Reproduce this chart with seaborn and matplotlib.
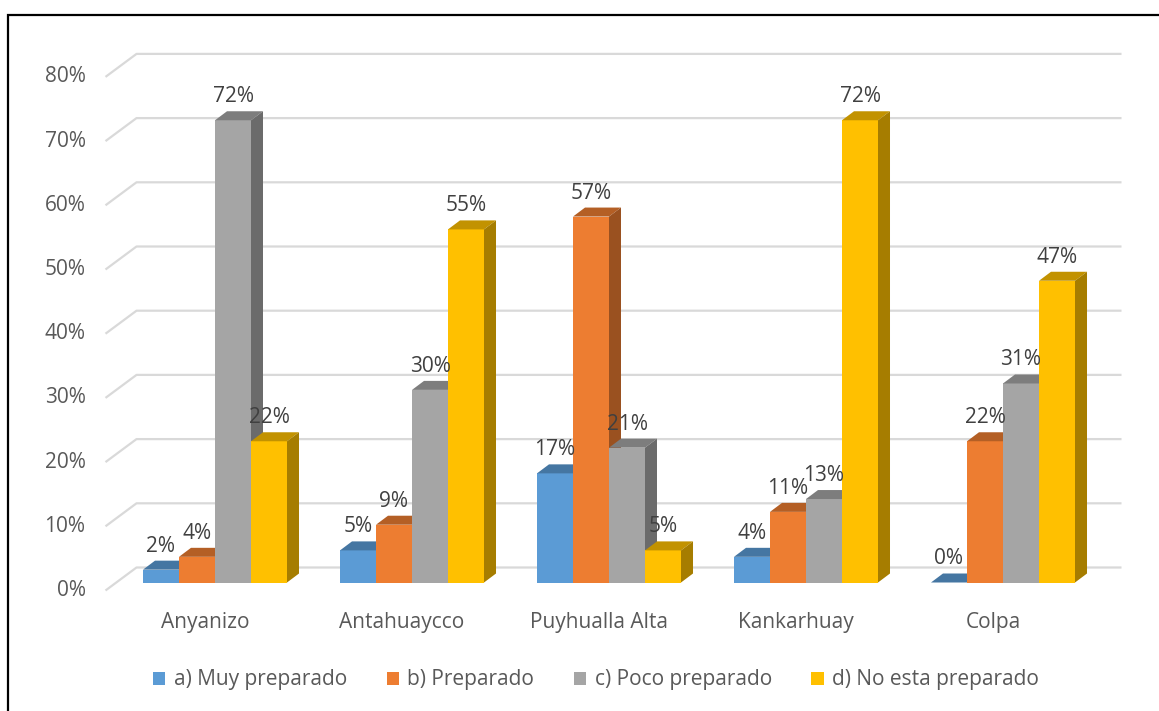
import matplotlib
matplotlib.use("Agg")
import matplotlib.pyplot as plt
from matplotlib.patches import Polygon, Rectangle, Patch
import seaborn as sns
import pandas as pd
import numpy as np

# ---- data -------------------------------------------------------------
comunidades = ["Anyanizo", "Antahuaycco", "Puyhualla Alta", "Kankarhuay", "Colpa"]
niveles = ["a) Muy preparado", "b) Preparado", "c) Poco preparado", "d) No esta preparado"]
muy_preparado = [2, 5, 17, 4, 0]
preparado = [4, 9, 57, 11, 22]
poco_preparado = [72, 30, 21, 13, 31]
no_preparado = [22, 55, 5, 72, 47]
y_ticks = [0, 10, 20, 30, 40, 50, 60, 70, 80]

colores = ["#5B9BD5", "#ED7D31", "#A5A5A5", "#FFC000"]

series = [muy_preparado, preparado, poco_preparado, no_preparado]
df = pd.DataFrame(
    [(c, n, v) for n, vals in zip(niveles, series) for c, v in zip(comunidades, vals)],
    columns=["comunidad", "nivel", "valor"],
)

# ---- figure / axes layout (pixel based) --------------------------------
W, H = 1159, 711
DPI = 100
FS = 15
sns.set_theme(style="white")
plt.rcParams["font.family"] = ["Open Sans", "DejaVu Sans"]

fig = plt.figure(figsize=(W / DPI, H / DPI), dpi=DPI)
fig.patch.set_facecolor("white")

px_unit_x = 197.0          # pixels per category
px_unit_y = 6.42           # pixels per percentage point
x_left_px = 215 - 0.5 * px_unit_x
y_zero_px = 582.5          # from top
y_top_px = y_zero_px - 80 * px_unit_y
ax = fig.add_axes([x_left_px / W, (H - y_zero_px) / H,
                   5 * px_unit_x / W, (y_zero_px - y_top_px) / H])

sns.barplot(data=df, x="comunidad", y="valor", hue="nivel", hue_order=niveles,
            palette=colores, width=0.731, saturation=1, linewidth=0,
            legend=False, ax=ax)
ax.set_xlim(-0.5, 4.5)
ax.set_ylim(0, 80)
ax.axis("off")

def px2x(p):
    return p / px_unit_x

def px2y(p):
    return p / px_unit_y

# back-wall gridlines and their floor/side projection
grid_col = "#D9D9D9"
back_dx, back_dy = px2x(20), px2y(15)
front_dx, front_dy = px2x(-11), px2y(-8)
for v in y_ticks:
    ax.plot([-0.5 + front_dx, -0.5 + back_dx, 4.5 + back_dx],
            [v + front_dy, v + back_dy, v + back_dy],
            color=grid_col, lw=1.6, clip_on=False, zorder=1,
            solid_capstyle="butt")
    ax.text(-0.5 + px2x(-31), v + front_dy, f"{v}%", ha="right", va="center",
            fontsize=FS, color="#595959")

# extruded bar faces
depth_dx, depth_dy = px2x(12), px2y(9)

def shade(c, f):
    r, g, b = matplotlib.colors.to_rgb(c)
    return (r * f, g * f, b * f)

bars = sorted(ax.patches, key=lambda p: p.get_x())
for k, p in enumerate(bars):
    x0, w, h = p.get_x(), p.get_width(), p.get_height()
    x1 = x0 + w
    base = shade(p.get_facecolor(), 1.0)
    p.set_zorder(3 + 3 * k)
    p.set_clip_on(False)
    top = Polygon([(x0, h), (x1, h), (x1 + depth_dx, h + depth_dy),
                   (x0 + depth_dx, h + depth_dy)], closed=True,
                  facecolor=shade(base, 0.76), edgecolor="none",
                  zorder=4 + 3 * k, clip_on=False)
    side = Polygon([(x1, 0), (x1, h), (x1 + depth_dx, h + depth_dy),
                    (x1 + depth_dx, depth_dy)], closed=True,
                   facecolor=shade(base, 0.65), edgecolor="none",
                   zorder=5 + 3 * k, clip_on=False)
    ax.add_patch(top)
    ax.add_patch(side)
    ax.annotate(f"{h:.0f}%", xy=(x0 + w / 2, h), xytext=(0, 18),
                textcoords="offset pixels", ha="center", va="baseline",
                fontsize=FS, color="#404040", zorder=200, annotation_clip=False)

# category names
for i, c in enumerate(comunidades):
    ax.text(i + px2x(-10), px2y(-40), c, ha="center", va="center",
            fontsize=FS, color="#595959")

# legend
handles = [Patch(facecolor=c, edgecolor="none") for c in colores]
fig.legend(handles, niveles, loc="center", bbox_to_anchor=(596 / W, 1 - 680 / H),
           ncol=4, frameon=False, fontsize=FS, labelcolor="#595959",
           handlelength=0.6, handleheight=0.6, handletextpad=0.4,
           columnspacing=1.9)

# chart frame
fig.add_artist(Rectangle((8 / W, -0.2), 1.5, 1.2 - 15 / H, transform=fig.transFigure,
                         fill=False, edgecolor="black", lw=1.6))

fig.savefig("out.png", dpi=DPI, facecolor="white")
